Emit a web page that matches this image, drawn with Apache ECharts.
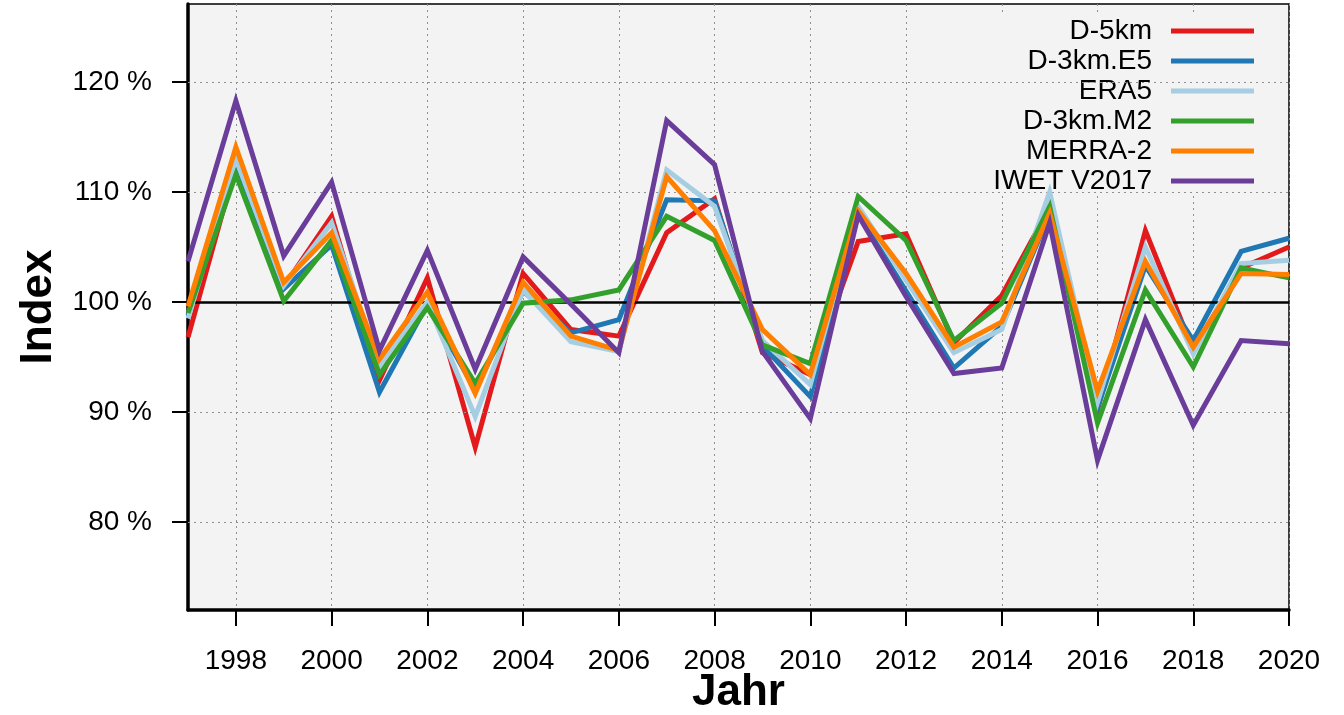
<!DOCTYPE html>
<html>
<head>
<meta charset="utf-8">
<title>Index</title>
<script src="https://cdn.jsdelivr.net/npm/echarts@6/dist/echarts.min.js"></script>
<style>
  html, body { margin: 0; padding: 0; background: #ffffff; }
  #chart { width: 1344px; height: 715px; }
</style>
</head>
<body>
<div id="chart"></div>
<script>
// Years on the x axis
const years = [1997, 1998, 1999, 2000, 2001, 2002, 2003, 2004, 2005, 2006, 2007, 2008,
               2009, 2010, 2011, 2012, 2013, 2014, 2015, 2016, 2017, 2018, 2019, 2020];

// Yearly index values in percent
const d5km   = [96.8, 112.5, 101.4, 107.8, 92.9, 102.2, 86.8, 102.6, 97.5, 96.9, 106.3, 109.4,
                95.4, 93.4, 105.5, 106.2, 96.3, 100.6, 108.6, 90.2, 106.5, 95.6, 103.1, 105.0];
const d3kmE5 = [98.8, 112.3, 101.2, 105.2, 91.8, 99.8, 92.0, 101.0, 97.2, 98.4, 109.3, 109.2,
                96.0, 91.4, 108.0, 101.0, 94.0, 97.8, 108.0, 90.4, 103.3, 96.5, 104.6, 105.8];
const era5   = [98.5, 113.0, 101.5, 107.2, 94.2, 100.0, 89.6, 101.1, 96.4, 95.5, 112.0, 108.7,
                96.5, 92.5, 108.7, 102.0, 95.4, 97.5, 110.0, 90.9, 105.0, 95.3, 103.5, 103.8];
const d3kmM2 = [99.0, 111.6, 100.1, 105.6, 93.4, 99.5, 92.6, 99.9, 100.2, 101.1, 107.8, 105.6,
                96.1, 94.4, 109.6, 105.6, 96.5, 99.9, 108.7, 89.0, 101.1, 94.1, 103.1, 102.2];
const merra2 = [99.6, 114.1, 101.8, 106.3, 94.8, 100.9, 91.7, 101.8, 96.9, 95.6, 111.4, 106.5,
                97.5, 93.4, 108.3, 102.6, 95.9, 98.2, 108.1, 91.9, 103.7, 95.9, 102.6, 102.5];
const iwet   = [103.7, 118.3, 104.2, 110.9, 95.6, 104.7, 93.9, 104.1, 99.8, 95.4, 116.5, 112.5,
                95.5, 89.4, 107.9, 100.5, 93.5, 94.0, 107.2, 85.6, 98.4, 88.8, 96.5, 96.2];

const seriesNames  = ['D-5km', 'D-3km.E5', 'ERA5', 'D-3km.M2', 'MERRA-2', 'IWET V2017'];
const seriesValues = [d5km, d3kmE5, era5, d3kmM2, merra2, iwet];
const seriesColors = ['#e31a1c', '#1f78b4', '#a6cee3', '#33a02c', '#ff7f00', '#6a3d9a'];

// Y tick values (percent) and the reference level
const yTicks = [80, 90, 100, 110, 120];
const refLevel = 100;

const FONT = "'Liberation Sans', Arial, Helvetica, sans-serif";
const evenYear = (i, v) => Number(v) % 2 === 0;

const chart = echarts.init(document.getElementById('chart'), null, { renderer: 'canvas' });

const gridLines = yTicks.filter(v => v !== refLevel).map(v => ({
  yAxis: v,
  lineStyle: { color: '#909090', width: 1, type: [2, 4] }
}));

const series = [{
  // horizontal guides and the 100 % reference line
  name: '_guides',
  type: 'line',
  data: [],
  z: 1,
  silent: true,
  markLine: {
    silent: true,
    symbol: 'none',
    label: { show: false },
    data: gridLines.concat([{
      yAxis: refLevel,
      lineStyle: { color: '#000', width: 2.5, type: 'solid' }
    }])
  }
}].concat(seriesNames.map((name, k) => ({
  name: name,
  type: 'line',
  data: seriesValues[k],
  z: 3 + k,
  showSymbol: false,
  symbol: 'none',
  lineStyle: { color: seriesColors[k], width: 5, join: 'miter' },
  itemStyle: { color: seriesColors[k] }
})));

chart.setOption({
  animation: false,
  backgroundColor: '#ffffff',
  textStyle: { fontFamily: FONT },
  grid: {
    left: 188, right: 55, top: 4, bottom: 105,
    outerBoundsMode: 'none',
    containLabel: false,
    show: true,
    backgroundColor: '#f3f3f3',
    borderColor: '#000',
    borderWidth: 1.5
  },
  legend: {
    data: seriesNames,
    orient: 'vertical',
    align: 'right',
    right: 74,
    top: 16,
    padding: [0, 16, 0, 18],
    backgroundColor: '#f3f3f3',
    itemGap: 0,
    itemWidth: 83,
    itemHeight: 5,
    icon: 'rect',
    textStyle: {
      fontFamily: FONT,
      fontSize: 28,
      lineHeight: 30,
      color: '#000',
      padding: [0, 14, 0, 0]
    }
  },
  xAxis: {
    type: 'category',
    boundaryGap: false,
    data: years.map(String),
    name: 'Jahr',
    nameLocation: 'middle',
    nameGap: 61,
    nameMoveOverlap: false,
    nameTextStyle: { fontFamily: FONT, fontSize: 44, fontWeight: 'bold', color: '#000' },
    axisLine: { show: true, lineStyle: { color: '#000', width: 3.5 } },
    axisTick: { show: true, inside: false, length: 16, interval: evenYear,
                lineStyle: { color: '#000', width: 2 } },
    axisLabel: { interval: evenYear, margin: 37, fontFamily: FONT, fontSize: 28, color: '#000' },
    splitLine: { show: true, interval: evenYear,
                 lineStyle: { color: '#909090', width: 1, type: [2, 4] } }
  },
  yAxis: {
    type: 'value',
    min: 72,
    max: 127.1,
    name: 'Index',
    nameLocation: 'middle',
    nameGap: 127,
    nameMoveOverlap: false,
    nameTextStyle: { fontFamily: FONT, fontSize: 44, fontWeight: 'bold', color: '#000' },
    axisLine: { show: true, lineStyle: { color: '#000', width: 3.5 } },
    axisTick: { show: true, inside: false, length: 16, customValues: yTicks,
                lineStyle: { color: '#000', width: 2 } },
    axisLabel: { customValues: yTicks, margin: 36, fontFamily: FONT, fontSize: 28, color: '#000',
                 formatter: v => v + ' %' },
    splitLine: { show: false }
  },
  series: series
});
</script>
</body>
</html>
